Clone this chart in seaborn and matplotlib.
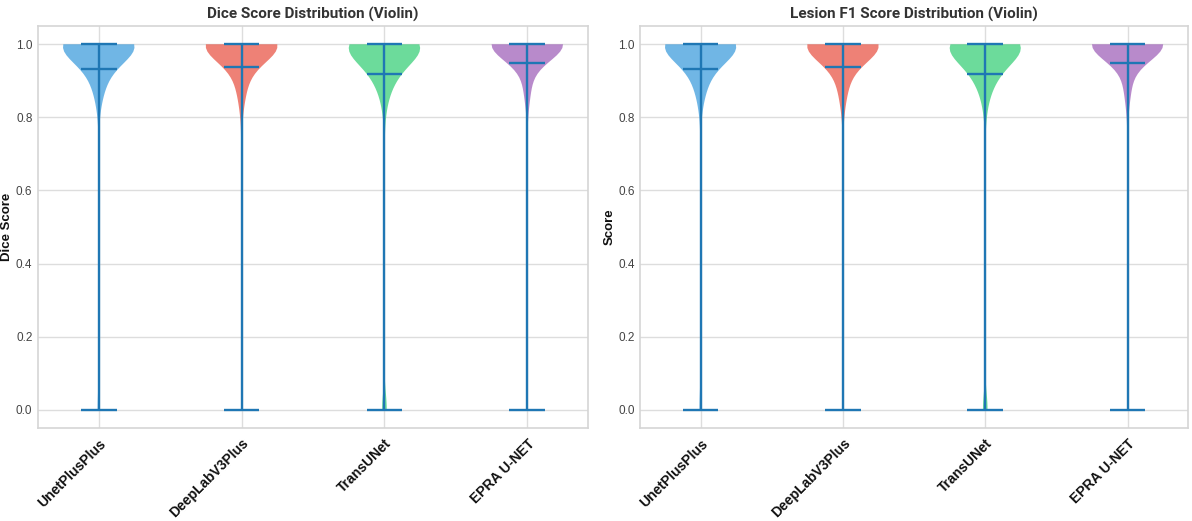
import numpy as np
import matplotlib
matplotlib.use("Agg")
import matplotlib.pyplot as plt
import seaborn as sns

MODELS = ["UnetPlusPlus", "DeepLabV3Plus", "TransUNet", "EPRA U-NET"]
COLORS = ["#3498db", "#e74c3c", "#2ecc71", "#9b59b6"]

# Score values (support) and estimated number of cases at each value
SUPPORT = [0.00, 0.10, 0.20, 0.30, 0.40, 0.50, 0.60, 0.70, 0.78, 0.80,
           0.82, 0.84, 0.86, 0.88, 0.90, 0.92, 0.94, 0.96, 0.98, 1.00]
DICE_UNET = [21, 4, 4, 5, 5, 6, 7, 9, 0, 2, 4, 9, 15, 21, 30, 42, 48, 48, 30, 600]
DICE_DEEPLAB = [10, 5, 5, 6, 7, 8, 9, 10, 1, 2, 5, 9, 14, 19, 27, 27, 30, 30, 30, 600]
DICE_TRANS = [49, 1, 1, 2, 2, 2, 3, 5, 2, 4, 6, 10, 15, 24, 39, 60, 78, 72, 48, 600]
DICE_EPRA = [8, 4, 4, 5, 5, 6, 7, 9, 0, 1, 2, 5, 10, 17, 21, 12, 6, 3, 0, 600]

F1_UNET = DICE_UNET
F1_DEEPLAB = DICE_DEEPLAB
F1_TRANS = DICE_TRANS
F1_EPRA = DICE_EPRA

KDE_BW = 0.045  # kernel width in score units

sns.set_theme(style="whitegrid")
plt.rcParams["font.family"] = ["Liberation Sans", "DejaVu Sans"]


def expand(counts):
    return np.repeat(np.array(SUPPORT), np.array(counts))


def bw(kde):
    return KDE_BW / np.std(kde.dataset, ddof=1)


dice_data = [expand(c) for c in (DICE_UNET, DICE_DEEPLAB, DICE_TRANS, DICE_EPRA)]
f1_data = [expand(c) for c in (F1_UNET, F1_DEEPLAB, F1_TRANS, F1_EPRA)]

fig = plt.figure(figsize=(11.92, 5.21), dpi=100)
ax1 = fig.add_axes([0.0319, 0.1785, 0.4614, 0.7716])
ax2 = fig.add_axes([0.537, 0.1785, 0.4597, 0.7716])


def draw(ax, data, title, ylabel):
    parts = ax.violinplot(data, showmeans=True, showextrema=True, bw_method=bw)
    for body, col in zip(parts["bodies"], COLORS):
        body.set_facecolor(col)
        body.set_edgecolor("none")
        body.set_alpha(0.7)
    for key in ("cmeans", "cmins", "cmaxes", "cbars"):
        parts[key].set_color("#1f77b4")
        parts[key].set_linewidth(1.7)
    ax.set_xticks(np.arange(1, len(MODELS) + 1))
    ax.set_xticklabels(MODELS, rotation=45, ha="right", rotation_mode="anchor",
                       fontsize=10, fontweight="bold", color="#111111")
    ax.tick_params(axis="y", labelsize=8.5, labelcolor="#444444", pad=4, length=0)
    ax.tick_params(axis="x", pad=6, length=0)
    ax.set_title(title, fontsize=11, fontweight="bold", family=["Roboto", "DejaVu Sans"],
                 color="#333333", pad=5)
    ax.set_ylabel(ylabel, fontsize=9.5, fontweight="bold", color="#111111", labelpad=2)
    for s in ax.spines.values():
        s.set_color("#d5d5d5")
        s.set_linewidth(1.2)
    ax.grid(color="#dddddd", linewidth=1.0)


draw(ax1, dice_data, "Dice Score Distribution (Violin)", "Dice Score")
draw(ax2, f1_data, "Lesion F1 Score Distribution (Violin)", "Score")

fig.savefig("out.png", dpi=100)
